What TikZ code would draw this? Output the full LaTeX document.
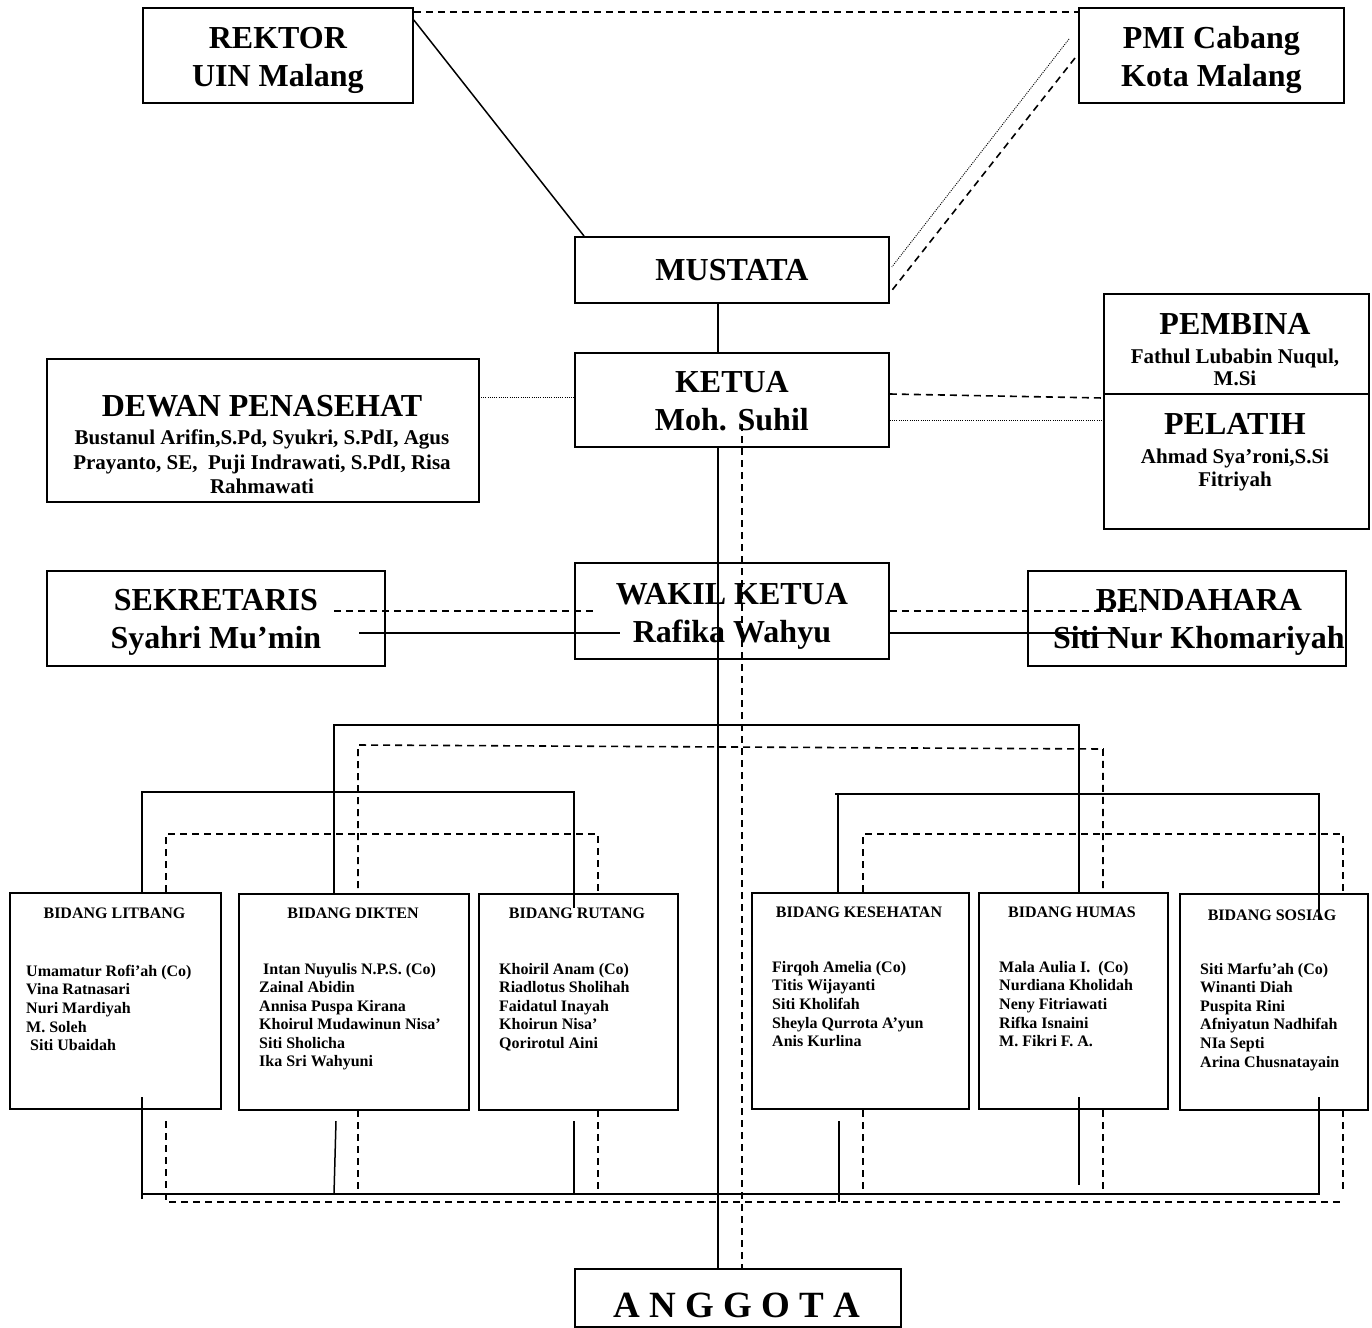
\documentclass[tikz,border=0pt]{standalone}
\usepackage{fontspec}
\setmainfont{Liberation Serif}
\usetikzlibrary{calc}
\begin{document}
\begin{tikzpicture}[x=1pt,y=-1pt]
\tikzset{
 box/.style={draw, line width=1.8pt, inner sep=0pt, anchor=north west},
 big/.style={font=\fontsize{32}{38}\selectfont\bfseries, align=center, inner sep=0pt},
 bigb/.style={font=\fontsize{32}{38}\selectfont\bfseries, inner sep=0pt, anchor=base},
 mid/.style={font=\fontsize{21}{24}\selectfont\bfseries, inner sep=0pt, anchor=base},
 nm/.style={font=\fontsize{16}{18}\selectfont\bfseries, inner sep=0pt, anchor=base west},
 ttl/.style={font=\fontsize{16}{18}\selectfont\bfseries, inner sep=0pt, anchor=base},
 sl/.style={line width=1.5pt},
 dl/.style={line width=1.6pt, dash pattern=on 7pt off 5pt},
 ol/.style={line width=0.9pt, dash pattern=on 1pt off 1.2pt},
}
\useasboundingbox (0,0) rectangle (1372,1327);

% ---------- boxes ----------
\node[box, minimum width=270, minimum height=95] (rektor) at (142,7) {};
\node[box, minimum width=265, minimum height=95] (pmi) at (1078,7) {};
\node[box, minimum width=314, minimum height=66] (mustata) at (574,236) {};
\node[box, minimum width=314, minimum height=94] (ketua) at (574,352) {};
\node[box, minimum width=432, minimum height=143] (dewan) at (46,358) {};
\node[box, minimum width=265, minimum height=100] (pembina) at (1103,293) {};
\node[box, minimum width=265, minimum height=135] (pelatih) at (1103,393) {};
\node[box, minimum width=338, minimum height=95] (sekre) at (46,570) {};
\node[box, minimum width=314, minimum height=96] (wakil) at (574,562) {};
\node[box, minimum width=318, minimum height=95] (benda) at (1027,570) {};
\node[box, minimum width=211, minimum height=216] (litbang) at (9,892) {};
\node[box, minimum width=230, minimum height=216] (dikten) at (238,893) {};
\node[box, minimum width=199, minimum height=216] (rutang) at (478,893) {};
\node[box, minimum width=217, minimum height=216] (kesehatan) at (751,892) {};
\node[box, minimum width=189, minimum height=216] (humas) at (978,892) {};
\node[box, minimum width=188, minimum height=216] (sosiag) at (1179,893) {};
\node[box, minimum width=326, minimum height=58] (anggota) at (574,1268) {};

% ---------- texts ----------
\node[big] (rektorT) at ($(rektor.center)+(0,5)$) {REKTOR\\UIN Malang};
\node[big] (pmiT) at ($(pmi.center)+(0,5)$) {PMI Cabang\\Kota Malang};
\node[big] (mustataT) at (mustata.center) {MUSTATA};
\node[big] (ketuaT) at ($(ketua.center)+(0,1)$) {KETUA\\Moh. Suhil};
\node[bigb] (dewanT) at (262,416) {DEWAN PENASEHAT};
\node[mid] (dewan1) at (262,444) {Bustanul Arifin,S.Pd, Syukri, S.PdI, Agus};
\node[mid] (dewan2) at (262,469) {Prayanto, SE,\ \ Puji Indrawati, S.PdI, Risa};
\node[mid] (dewan3) at (262,493) {Rahmawati};
\node[bigb] (pembinaT) at (1235,334) {PEMBINA};
\node[mid] (pembina1) at (1235,363) {Fathul Lubabin Nuqul,};
\node[mid] (pembina2) at (1235,385) {M.Si};
\node[bigb] (pelatihT) at (1235,434) {PELATIH};
\node[mid] (pelatih1) at (1235,463) {Ahmad Sya’roni,S.Si};
\node[mid] (pelatih2) at (1235,486) {Fitriyah};
\node[big] (sekreT) at ($(sekre.center)+(0,4)$) {SEKRETARIS\\Syahri Mu’min};
\node[big] (wakilT) at ($(wakil.center)+(0,5)$) {WAKIL KETUA\\Rafika Wahyu};
\node[big] (bendaT) at ($(benda.center)+(12,4)$) {BENDAHARA\\Siti Nur Khomariyah};
\node[font=\fontsize{37}{40}\selectfont\bfseries, inner sep=0pt, anchor=base] (anggotaT) at (737,1317) {A N G G O T A};

\node[ttl] (litbangT) at (114.5,918) {BIDANG LITBANG};
\node[ttl] (diktenT) at (353,918) {BIDANG DIKTEN};
\node[ttl] (rutangT) at (577,918) {BIDANG RUTANG};
\node[ttl] (kesehatanT) at (859,917) {BIDANG KESEHATAN};
\node[ttl] (humasT) at (1072,917) {BIDANG HUMAS};
\node[ttl] (sosiagT) at (1272,920) {BIDANG SOSIAG};

\foreach \t [count=\i] in {Umamatur Rofi’ah (Co), Vina Ratnasari, Nuri Mardiyah, M. Soleh, \hspace{4pt}Siti Ubaidah}
  \node[nm] (lit\i) at (26,{976+18.7*(\i-1)}) {\t};
\foreach \t [count=\i] in {\hspace{4pt}Intan Nuyulis N.P.S. (Co), Zainal Abidin, Annisa Puspa Kirana, Khoirul Mudawinun Nisa’, Siti Sholicha, Ika Sri Wahyuni}
  \node[nm] (dik\i) at (259,{974+18.5*(\i-1)}) {\t};
\foreach \t [count=\i] in {Khoiril Anam (Co), Riadlotus Sholihah, Faidatul Inayah, Khoirun Nisa’, Qorirotul Aini}
  \node[nm] (rut\i) at (499,{974+18.5*(\i-1)}) {\t};
\foreach \t [count=\i] in {Firqoh Amelia (Co), Titis Wijayanti, Siti Kholifah, Sheyla Qurrota A’yun, Anis Kurlina}
  \node[nm] (kes\i) at (772,{972+18.7*(\i-1)}) {\t};
\foreach \t [count=\i] in {Mala Aulia I.\ \ (Co), Nurdiana Kholidah, Neny Fitriawati, Rifka Isnaini, M. Fikri F. A.}
  \node[nm] (hum\i) at (999,{972+18.7*(\i-1)}) {\t};
\foreach \t [count=\i] in {Siti Marfu’ah (Co), Winanti Diah, Puspita Rini, Afniyatun Nadhifah, NIa Septi, Arina Chusnatayain}
  \node[nm] (sos\i) at (1200,{974+18.6*(\i-1)}) {\t};

% ---------- top connectors ----------
\draw[dl] (rektor.north east |- 0,12) -- (pmi.west |- 0,12);
\draw[sl] ($(rektor.north east)+(0,13)$) -- ($(mustata.north west)+(10,0)$);
\draw[ol] ($(pmi.north west)+(-9,32)$) -- ($(mustata.north east)+(2,31)$);
\draw[dl] ($(pmi.north west)+(-3,51)$) -- ($(mustata.south east)+(1,-12)$);
\draw[sl] (718,0 |- mustata.south) -- (718,0 |- ketua.north);
\draw[ol] (481,397) -- (ketua.west |- 0,397);
\draw[dl] (ketua.east |- 0,394) -- (pembina.south west |- 0,398);
\draw[ol] (ketua.east |- 0,420) -- (pelatih.west |- 0,420);

% ---------- central spine ----------
\draw[sl] (718,0 |- ketua.south) -- (718,0 |- anggota.north);
\draw[dl] (742,412) -- (742,0 |- anggota.north);

% ---------- sekretaris / bendahara ----------
\draw[dl] (334,611) -- (594,611);
\draw[sl] (359,633) -- (620,633);
\draw[dl] (wakil.east |- 0,611) -- (1143,611);
\draw[sl] (wakil.east |- 0,633) -- (1118,633);

% ---------- tree to bidang ----------
\draw[sl] (334,0 |- dikten.north) -- (334,725) -- (1079,725) -- (1079,0 |- humas.north);
\draw[dl] (358,888) -- (358,745) -- (1103,749) -- (1103,0 |- humas.north);
\draw[sl] (142,0 |- litbang.north) -- (142,792) -- (574,792) -- (574,908);
\draw[dl] (166,0 |- litbang.north) -- (166,834) -- (598,834) -- (598,0 |- rutang.north);
\draw[sl] (838,0 |- kesehatan.north) -- (838,794);
\draw[sl] (835,794) -- (1319,794) -- (1319,920);
\draw[dl] (863,0 |- kesehatan.north) -- (863,834) -- (1343,834) -- (1343,0 |- sosiag.north);

% ---------- bottom collectors ----------
\draw[sl] (142,1097) -- (142,1199);
\draw[sl] (142,1194) -- (1319,1194) -- (1319,1097);
\draw[sl] (336,1121) -- (334,1194);
\draw[sl] (574,1121) -- (574,1194);
\draw[sl] (839,1121) -- (839,1202);
\draw[sl] (1079,1097) -- (1079,1185);
\draw[dl] (166,1121) -- (166,1202) -- (1340,1202);
\foreach \xx in {358,598,863,1103,1343}
  \draw[dl] (\xx,1110) -- (\xx,1190);
\end{tikzpicture}
\end{document}
